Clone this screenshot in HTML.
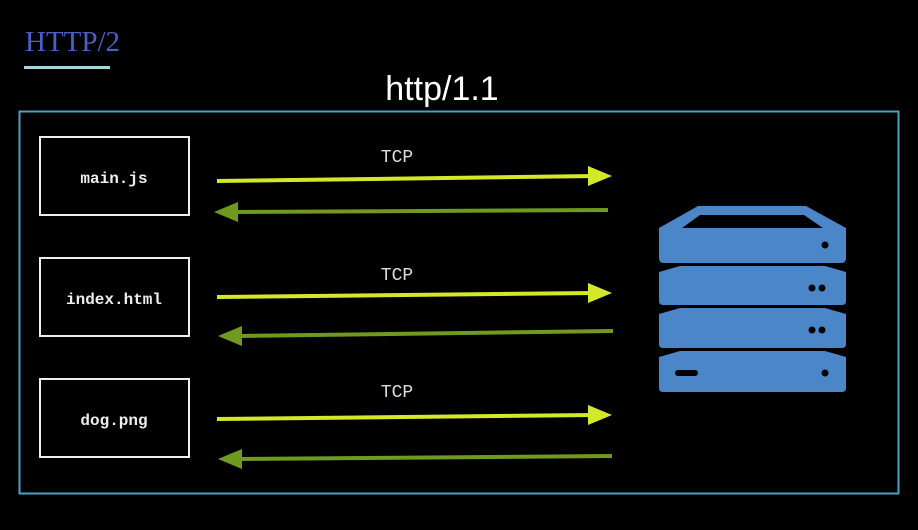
<!DOCTYPE html>
<html><head><style>
body{margin:0;background:#000;width:918px;height:525px;overflow:hidden}
</style></head><body>
<svg width="918" height="525" viewBox="0 0 918 525" xmlns="http://www.w3.org/2000/svg">
<rect width="918" height="525" fill="#000"/>
<text x="25" y="51" font-family="Liberation Serif, serif" font-size="29" fill="#4a5fc8">HTTP/2</text>
<rect x="24" y="66" width="86" height="3" fill="#a9d3e0"/>
<text x="442" y="100" font-family="Liberation Sans, sans-serif" font-size="34" fill="#fff" text-anchor="middle">http/1.1</text>
<rect x="19.5" y="111.5" width="879" height="382" fill="none" stroke="#4aa3c0" stroke-width="2"/>
<g fill="none" stroke="#eee" stroke-width="2">
<rect x="40" y="137" width="149" height="78"/>
<rect x="40" y="258" width="149" height="78"/>
<rect x="40" y="379" width="149" height="78"/>
</g>
<g font-family="Liberation Mono, monospace" font-weight="bold" font-size="16" fill="#eee" text-anchor="middle">
<text x="114" y="183">main.js</text>
<text x="114" y="304">index.html</text>
<text x="114" y="425">dog.png</text>
</g>
<g font-family="Liberation Mono, monospace" font-size="18" fill="#ddd" text-anchor="middle">
<text x="397" y="162">TCP</text>
<text x="397" y="280">TCP</text>
<text x="397" y="397">TCP</text>
</g>
<g stroke-width="4">
<line x1="217" y1="181" x2="595" y2="176" stroke="#d4e82a"/>
<polygon points="612,176 588,166 588,186" fill="#d4e82a"/>
<line x1="608" y1="210" x2="235" y2="212" stroke="#6f9a1f"/>
<polygon points="214,212 238,202 238,222" fill="#6f9a1f"/>
<line x1="217" y1="297" x2="595" y2="293" stroke="#d4e82a"/>
<polygon points="612,293 588,283 588,303" fill="#d4e82a"/>
<line x1="613" y1="331" x2="238" y2="336" stroke="#6f9a1f"/>
<polygon points="218,336 242,326 242,346" fill="#6f9a1f"/>
<line x1="217" y1="419" x2="595" y2="415" stroke="#d4e82a"/>
<polygon points="612,415 588,405 588,425" fill="#d4e82a"/>
<line x1="612" y1="456" x2="238" y2="459" stroke="#6f9a1f"/>
<polygon points="218,459 242,449 242,469" fill="#6f9a1f"/>
</g>
<g fill="#4a86c8">
<path d="M698,206 L806,206 L846,228 L846,258 Q846,263 841,263 L664,263 Q659,263 659,258 L659,228 Z"/>
<path d="M680,266 L825,266 L846,272 L846,301 Q846,305 842,305 L663,305 Q659,305 659,301 L659,272 Z"/>
<path d="M680,308 L825,308 L846,314 L846,344 Q846,348 842,348 L663,348 Q659,348 659,344 L659,314 Z"/>
<path d="M680,351 L825,351 L846,357 L846,388 Q846,392 842,392 L663,392 Q659,392 659,388 L659,357 Z"/>
</g>
<g fill="#000">
<polygon points="700,215 804,215 823,228 682,228"/>
<circle cx="825" cy="245" r="3.5"/>
<circle cx="812" cy="288" r="3.5"/><circle cx="822" cy="288" r="3.5"/>
<circle cx="812" cy="330" r="3.5"/><circle cx="822" cy="330" r="3.5"/>
<circle cx="825" cy="373" r="3.5"/>
<rect x="675" y="370" width="23" height="6" rx="3"/>
</g>
</svg>
</body></html>
